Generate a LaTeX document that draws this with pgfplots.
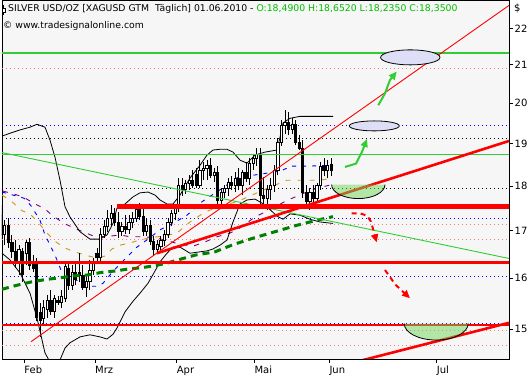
\documentclass[border=0pt]{standalone}
\usepackage{pgfplots}
\usepackage{pgfplotstable}
\pgfplotsset{compat=1.18}
\usetikzlibrary{arrows.meta}
\usepackage{fontspec}
\setmainfont{DejaVu Sans}
\definecolor{bgc}{RGB}{246,246,246}
\definecolor{lgreen}{RGB}{50,205,50}
\definecolor{dgreen}{RGB}{0,128,0}
\definecolor{pinkd}{RGB}{240,128,128}
\definecolor{goldd}{RGB}{205,150,20}
\definecolor{purp}{RGB}{128,0,128}
\definecolor{lav}{RGB}{222,222,246}
\definecolor{bowl}{RGB}{110,215,90}
\definecolor{hgreen}{RGB}{0,190,0}
\newcommand\tks{\fontsize{10}{12}\selectfont}
\newcommand\hdr{\fontsize{9.3}{11}\selectfont}
\newcommand\cnd[5]{%
  \pgfmathsetmacro\xc{26.1+3.547*(#1)}%
  \pgfmathsetmacro\xa{\xc-1.1}%
  \pgfmathsetmacro\xb{\xc+1.1}%
  \ifdim #5pt>#2pt \def\fc{white}\else\def\fc{black}\fi
  \edef\doit{%
    \noexpand\addplot[black,line width=0.9pt,forget plot] coordinates {(\xc,#4) (\xc,#3)};%
    \noexpand\addplot[draw=black,fill=\fc,line width=0.9pt,forget plot] coordinates {(\xa,#2) (\xb,#2) (\xb,#5) (\xa,#5)} -- cycle;%
  }\doit}
\pgfplotstableread{
i o h l c
-7 17.34 17.57 16.80 16.91
-6 16.91 17.23 16.69 17.12
-5 17.12 17.27 16.63 16.76
-4 16.76 16.91 16.42 16.55
-3 16.55 16.80 16.21 16.34
-2 16.34 16.69 16.07 16.59
-1 16.55 16.63 15.93 16.07
0 16.52 16.80 16.27 16.74
1 16.74 16.85 16.17 16.27
2 16.34 16.48 16.13 16.21
3 16.30 16.42 15.15 15.23
4 15.31 15.51 14.85 15.17
5 15.21 15.56 15.08 15.41
6 15.37 15.66 15.21 15.56
7 15.56 15.76 15.27 15.33
8 15.33 15.66 15.21 15.60
9 15.56 15.64 15.47 15.51
10 15.51 15.76 15.41 15.64
11 15.60 16.34 15.52 16.25
12 16.21 16.34 15.76 15.86
13 15.86 16.27 15.76 16.13
14 16.13 16.34 15.86 15.97
15 16.13 16.52 15.93 16.05
16 16.05 16.27 15.76 15.82
17 15.82 16.03 15.62 15.93
18 15.93 16.38 15.76 16.17
19 16.17 16.42 16.07 16.34
20 16.52 16.63 16.34 16.44
21 16.44 17.06 16.34 16.91
22 16.91 17.23 16.85 17.10
23 17.10 17.46 16.98 17.27
24 17.27 17.57 17.10 17.37
25 17.37 17.50 17.10 17.19
26 17.19 17.41 16.85 16.98
27 16.98 17.19 16.89 17.10
28 17.10 17.34 16.93 17.02
29 17.02 17.34 16.93 17.19
30 17.19 17.41 17.06 17.27
31 17.27 17.57 17.19 17.46
32 17.46 17.61 17.23 17.32
33 17.32 17.50 16.89 16.98
34 16.98 17.27 16.89 17.12
35 17.12 17.23 16.69 16.78
36 16.78 16.89 16.48 16.59
37 16.59 16.80 16.52 16.71
38 16.67 16.89 16.55 16.80
39 16.80 17.02 16.67 16.91
40 16.91 17.27 16.85 17.19
41 17.19 17.46 17.10 17.37
42 17.37 17.57 17.23 17.50
43 17.50 18.18 17.41 18.02
44 18.02 18.18 17.77 17.91
45 17.91 18.13 17.82 18.06
46 18.06 18.25 17.91 18.13
47 18.13 18.37 17.95 18.02
48 18.27 18.41 17.95 18.02
49 18.02 18.60 17.95 18.37
50 18.37 18.55 18.13 18.41
51 18.41 18.60 18.13 18.48
52 18.48 18.65 18.18 18.25
53 18.25 18.41 18.09 18.32
54 18.32 18.46 17.57 17.68
55 17.68 17.95 17.55 17.86
56 17.86 18.02 17.72 17.95
57 17.95 18.18 17.77 18.09
58 18.09 18.23 17.91 18.00
59 18.00 18.32 17.86 18.18
60 18.18 18.41 17.91 18.00
61 18.00 18.37 17.79 18.32
62 18.32 18.55 18.09 18.18
63 18.18 18.65 18.02 18.51
64 18.51 18.74 18.37 18.65
65 18.65 18.89 18.46 18.74
66 18.74 18.89 17.57 17.79
67 17.79 18.20 17.53 17.72
68 17.72 18.02 17.46 17.91
69 17.91 18.18 17.68 18.00
70 18.00 18.48 17.86 18.37
71 18.37 19.13 18.25 19.03
72 19.03 19.57 18.94 19.43
73 19.43 19.83 19.23 19.52
74 19.52 19.78 19.20 19.33
75 19.33 19.62 19.23 19.47
76 19.47 19.57 18.96 19.03
77 19.03 19.20 18.84 18.89
78 18.89 19.08 17.72 17.86
79 17.86 18.02 17.53 17.64
80 17.64 17.95 17.46 17.84
81 17.84 18.02 17.50 17.72
82 17.72 18.06 17.64 18.00
83 18.00 18.55 17.91 18.46
84 18.46 18.65 18.23 18.37
85 18.37 18.60 18.18 18.48
86 18.49 18.652 18.235 18.35
}\candles
\begin{document}
\begin{tikzpicture}
\useasboundingbox (-2pt,-21pt) rectangle (529pt,359pt);
\begin{axis}[
  name=ax,
  scale only axis, width=507pt, height=359pt,
  xmin=2, xmax=509, ymode=log, ymin=14.438, ymax=22.808,
  axis background/.style={fill=bgc},
  axis line style={line width=0.8pt},
  xtick={24.3,95,176.7,254.3,329.3,436.7},
  xticklabels={Feb,Mrz,Apr,Mai,Jun,Jul},
  ytick={15,16,17,18,19,20,21,22},
  yticklabels={15,16,17,18,19,20,21,22},
  xtick pos=left, xticklabel pos=left,
  ytick pos=right, yticklabel pos=right,
  tick align=outside,
  major tick length=4pt,
  tick style={black, line width=0.7pt},
  minor tick num=0,
  ticklabel style={font=\tks, inner sep=0pt},
  xticklabel style={anchor=north west, yshift=-3pt},
  yticklabel style={anchor=west, xshift=1.5pt},
  clip=true,
]
% dotted levels
\addplot[blue, line width=0.8pt, dash pattern=on 1pt off 3pt] coordinates {(2,19.44) (509,19.44)};
\addplot[blue, line width=0.8pt, dash pattern=on 1pt off 3pt] coordinates {(2,17.27) (509,17.27)};
\addplot[blue, line width=0.8pt, dash pattern=on 1pt off 3pt] coordinates {(2,16.04) (509,16.04)};
\addplot[blue, line width=0.8pt, dash pattern=on 1pt off 3pt] coordinates {(2,15.11) (509,15.11)};
\addplot[black, line width=0.8pt, dash pattern=on 1pt off 3pt] coordinates {(2,19.12) (509,19.12)};
\addplot[black, line width=0.8pt, dash pattern=on 1pt off 3pt] coordinates {(2,17.94) (509,17.94)};
\addplot[pinkd, line width=0.8pt, dash pattern=on 1pt off 3pt] coordinates {(2,20.91) (509,20.91)};
\addplot[pinkd, line width=0.8pt, dash pattern=on 1pt off 3pt] coordinates {(2,17.15) (509,17.15)};
\addplot[pinkd, line width=0.8pt, dash pattern=on 1pt off 3pt] coordinates {(2,16.82) (509,16.82)};
\addplot[pinkd, line width=0.8pt, dash pattern=on 1pt off 3pt] coordinates {(2,14.98) (509,14.98)};
\addplot[pinkd, line width=0.8pt, dash pattern=on 1pt off 3pt] coordinates {(2,14.69) (509,14.69)};
% moving averages
\addplot[goldd, line width=0.9pt, dash pattern=on 5pt off 7pt] coordinates {(2,17.79) (12,17.64) (22,17.44) (30,17.37) (38,17.19) (47,16.95) (56,16.76) (65,16.63) (72,16.57) (85,16.48) (97,16.42) (105,16.46) (112,16.61) (120,16.69) (130,16.74) (140,16.80) (150,16.85) (165,16.89) (177,16.95) (190,17.19) (205,17.41) (222,17.55) (237,17.64) (255,17.82) (268,17.95) (287,18.13) (305,18.13) (320,18.13) (333,18.18)};
\addplot[purp, line width=0.9pt, dash pattern=on 5pt off 7pt] coordinates {(3,17.88) (10,17.84) (23,17.75) (35,17.59) (45,17.48) (53,17.32) (66,17.14) (78,17.02) (93,16.89) (105,16.87) (120,16.91) (130,16.87) (143,16.87) (155,16.85) (165,16.80) (180,16.71) (193,16.67) (205,16.76) (217,16.87) (230,16.95) (240,17.06) (255,17.30) (265,17.41) (288,17.68) (312,17.91) (333,18.04)};
\addplot[blue, line width=0.9pt, dash pattern=on 4pt off 6pt] coordinates {(2,17.86) (13,17.79) (24,17.72) (31,17.55) (40,17.23) (45,16.91) (55,16.48) (61,16.17) (70,16.02) (80,15.93) (90,15.84) (97,15.84) (103,15.90) (110,16.07) (117,16.23) (127,16.44) (137,16.65) (148,16.82) (160,17.02) (173,17.16) (187,17.34) (202,17.64) (220,17.91) (238,18.20) (254,18.25) (268,18.30) (280,18.34) (292,18.46) (310,18.46) (333,18.48)};
% bollinger bands
\addplot[black, line width=0.8pt] coordinates {(2,19.18) (10,19.25) (20,19.33) (30,19.40) (37,19.47) (45,19.40) (50,19.08) (55,18.67) (60,18.13) (65,17.53) (70,17.30) (80,16.98) (90,16.82) (100,16.82) (107,16.91) (113,17.16) (117,17.50) (125,17.59) (133,17.75) (140,17.84) (148,17.86) (155,17.79) (160,17.68) (167,17.59) (173,17.59) (180,17.79) (190,18.18) (200,18.48) (207,18.72) (213,18.84) (220,18.86) (227,18.86) (233,18.79) (240,18.60) (247,18.53) (255,18.72) (265,18.79) (277,18.84) (280,19.15) (283,19.50) (290,19.62) (300,19.67) (310,19.67) (320,19.67) (333,19.67)};
\addplot[black, line width=0.8pt] coordinates {(2,16.52) (10,16.38) (20,16.11) (30,15.70) (37,15.21) (45,14.55) (50,14.38) (55,14.31) (60,14.42) (65,14.64) (70,14.74) (80,14.85) (90,14.89) (100,14.85) (107,14.81) (113,14.90) (117,15.02) (125,15.33) (133,15.54) (140,15.70) (148,15.90) (155,16.15) (160,16.34) (167,16.52) (173,16.65) (180,16.65) (190,16.52) (200,16.55) (207,16.57) (213,16.61) (220,16.69) (227,16.80) (233,17.19) (240,17.59) (247,17.68) (255,17.70) (265,17.57) (277,17.32) (283,17.25) (290,17.37) (300,17.34) (310,17.25) (320,17.19) (333,17.16)};
% candles
\pgfplotstablegetrowsof{\candles}
\pgfmathtruncatemacro\nrows{\pgfplotsretval-1}
\pgfplotsforeachungrouped \r in {0,...,\nrows}{%
  \pgfplotstablegetelem{\r}{i}\of\candles\let\ci\pgfplotsretval
  \pgfplotstablegetelem{\r}{o}\of\candles\let\co\pgfplotsretval
  \pgfplotstablegetelem{\r}{h}\of\candles\let\ch\pgfplotsretval
  \pgfplotstablegetelem{\r}{l}\of\candles\let\cl\pgfplotsretval
  \pgfplotstablegetelem{\r}{c}\of\candles\let\cc\pgfplotsretval
  \cnd{\ci}{\co}{\ch}{\cl}{\cc}%
}
% trend / support lines
\addplot[dgreen, line width=3pt, dash pattern=on 7pt off 5pt] coordinates {(2,15.78) (17,15.86) (32,15.93) (47,15.98) (60,16.01) (73,16.05) (88,16.07) (101,16.12) (115,16.15) (128,16.19) (142,16.22) (155,16.26) (168,16.32) (178,16.38) (195,16.48) (215,16.55) (233,16.70) (253,16.84) (275,16.98) (297,17.12) (317,17.23) (333,17.31)};
\addplot[lgreen, line width=2pt] coordinates {(2,21.33) (509,21.33)};
\addplot[lgreen, line width=0.9pt] coordinates {(2,18.74) (509,18.74)};
\addplot[lgreen, line width=0.9pt] coordinates {(2,18.78) (509,16.41)};
\addplot[red, line width=0.9pt] coordinates {(31,14.76) (509,22.65)};
\addplot[red, line width=2.6pt] coordinates {(157,16.52) (509,19.06)};
\addplot[red, line width=2.6pt] coordinates {(355,14.38) (509,15.12)};
\addplot[red, line width=5pt] coordinates {(117,17.53) (509,17.53)};
\addplot[red, line width=3pt] coordinates {(2,16.32) (509,16.32)};
\addplot[red, line width=2.2pt] coordinates {(2,15.07) (509,15.07)};
% annotations
\draw[fill=lav, line width=0.8pt] (axis cs:410.3,21.20) ellipse [x radius=29.7pt, y radius=7.5pt];
\draw[fill=lav, line width=0.8pt] (axis cs:374.3,19.43) ellipse [x radius=25pt, y radius=5pt];
\fill[bowl, fill opacity=0.5] (axis cs:331.6,18.03) arc[start angle=180,end angle=360,x radius=26.7pt,y radius=14pt] -- cycle;
\draw[line width=0.8pt] (axis cs:331.6,18.03) arc[start angle=180,end angle=360,x radius=26.7pt,y radius=14pt];
\fill[bowl, fill opacity=0.5] (axis cs:404.2,15.105) arc[start angle=180,end angle=360,x radius=32pt,y radius=16.5pt] -- cycle;
\draw[line width=0.8pt] (axis cs:404.2,15.105) arc[start angle=180,end angle=360,x radius=32pt,y radius=16.5pt];
\draw[lgreen, line width=2pt, -{Triangle[length=8pt,width=7pt]}] (axis cs:345,18.44) -- (axis cs:356,18.52) -- (axis cs:362,18.80) -- (axis cs:367,19.11);
\draw[lgreen, line width=2pt, -{Triangle[length=8pt,width=7pt]}] (axis cs:378.3,19.95) -- (axis cs:385,20.25) -- (axis cs:390,20.60) -- (axis cs:396.7,20.82);
\draw[red, line width=2pt, dash pattern=on 5pt off 4pt, -{Triangle[length=8pt,width=7pt]}] (axis cs:351.7,17.38) -- (axis cs:360,17.38) -- (axis cs:367,17.33) -- (axis cs:371,17.20) -- (axis cs:374,16.96) -- (axis cs:376.7,16.75);
\draw[red, line width=2pt, dash pattern=on 5pt off 4pt, -{Triangle[length=8pt,width=7pt]}] (axis cs:385,16.17) -- (axis cs:390,16.03) -- (axis cs:395,15.88) -- (axis cs:410,15.60);
% header
\node[anchor=west, inner sep=0pt, font=\hdr, xshift=6pt, yshift=-9pt] at (rel axis cs:0,1) {SILVER USD/OZ [XAGUSD GTM\ \ Täglich] 01.06.2010 - \textcolor{hgreen}{O:18,4900 H:18,6520 L:18,2350 C:18,3500}};
\node[anchor=west, inner sep=0pt, font=\hdr, xshift=1pt, yshift=-25.5pt] at (rel axis cs:0,1) {© www.tradesignalonline.com};
\end{axis}
\draw[line width=0.7pt] (1.8pt,354pt) -- (1.8pt,344pt);
\draw[line width=0.7pt, fill=white] (0.4pt,351pt) rectangle (3.2pt,347pt);
\node[font=\tks, inner sep=0pt, anchor=north west] at (512pt,355pt) {\$};
\end{tikzpicture}
\end{document}
